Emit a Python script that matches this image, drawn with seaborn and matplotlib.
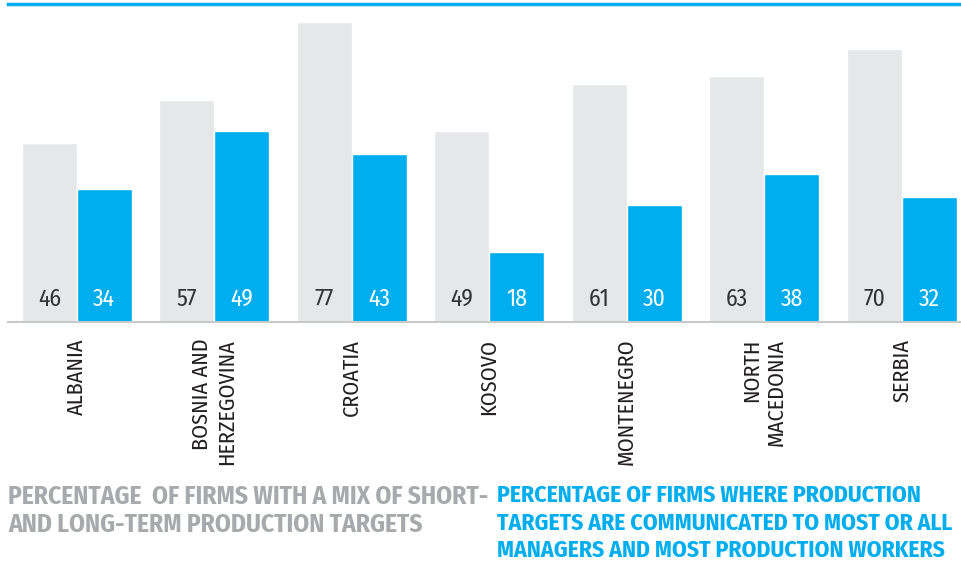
import pandas as pd
import numpy as np
import seaborn as sns
import matplotlib.pyplot as plt

countries = ['ALBANIA', 'BOSNIA AND\nHERZEGOVINA', 'CROATIA', 'KOSOVO',
             'MONTENEGRO', 'NORTH\nMACEDONIA', 'SERBIA']
mix_targets = [46, 57, 77, 49, 61, 63, 70]
communicated = [34, 49, 43, 18, 30, 38, 32]

series_names = ['mix', 'communicated']
grey = '#e6e7e8'
blue = '#00aeef'

df = pd.DataFrame({
    'country': countries * 2,
    'series': [series_names[0]] * len(countries) + [series_names[1]] * len(countries),
    'value': mix_targets + communicated,
})

sns.set_style('white')
plt.rcParams['font.family'] = ['Fira Sans Condensed', 'PT Sans Narrow',
                               'IBM Plex Sans Condensed', 'DejaVu Sans']

fig = plt.figure(figsize=(9.61, 5.62), dpi=100)
ax = fig.add_axes([8 / 961, (562 - 322) / 562, (961 - 8) / 961, (322 - 4) / 562])

sns.barplot(data=df, x='country', y='value', hue='series', order=countries,
            hue_order=series_names, palette=[grey, blue], saturation=1,
            width=0.8, legend=False, ax=ax)

ax.set_ylim(0, 81.5)
ax.set_xlim(-0.5, 6.43)
ax.set_xlabel('')
ax.set_ylabel('')
ax.set_yticks([])

# value labels near the bottom of each bar
for container, col in zip(ax.containers, ['#333333', 'white']):
    for patch, val in zip(container.patches, container.datavalues):
        ax.text(patch.get_x() + patch.get_width() / 2, 5.9, f'{int(val)}',
                ha='center', va='center', fontsize=17, color=col)

ax.set_xticks(range(len(countries)))
ax.set_xticklabels(countries, rotation=90, fontsize=16, color='#231f20',
                   va='top', ha='center', multialignment='right')
ax.tick_params(axis='x', which='major', length=0, pad=12)
ax.set_xticks(np.arange(-0.5, 6, 1), minor=True)
ax.tick_params(axis='x', which='minor', direction='in', length=8.5,
               width=1.3, color='#c8c9cb')

for s in ['left', 'right']:
    ax.spines[s].set_visible(False)
ax.spines['bottom'].set_color('#c8c9cb')
ax.spines['bottom'].set_linewidth(1.5)
ax.spines['top'].set_color(blue)
ax.spines['top'].set_linewidth(2.5)

fig.text(8 / 961, 1 - 484 / 562,
         'PERCENTAGE  OF FIRMS WITH A MIX OF SHORT-\nAND LONG-TERM PRODUCTION TARGETS',
         ha='left', va='top', fontsize=18.3, fontweight='bold', color='#a7a9ac',
         linespacing=1.17, transform=fig.transFigure)
fig.text(497 / 961, 1 - 484 / 562,
         'PERCENTAGE OF FIRMS WHERE PRODUCTION\nTARGETS ARE COMMUNICATED TO MOST OR ALL\nMANAGERS AND MOST PRODUCTION WORKERS',
         ha='left', va='top', fontsize=17, fontweight='bold', color=blue,
         linespacing=1.24, transform=fig.transFigure)

fig.savefig('out.png', dpi=100)
